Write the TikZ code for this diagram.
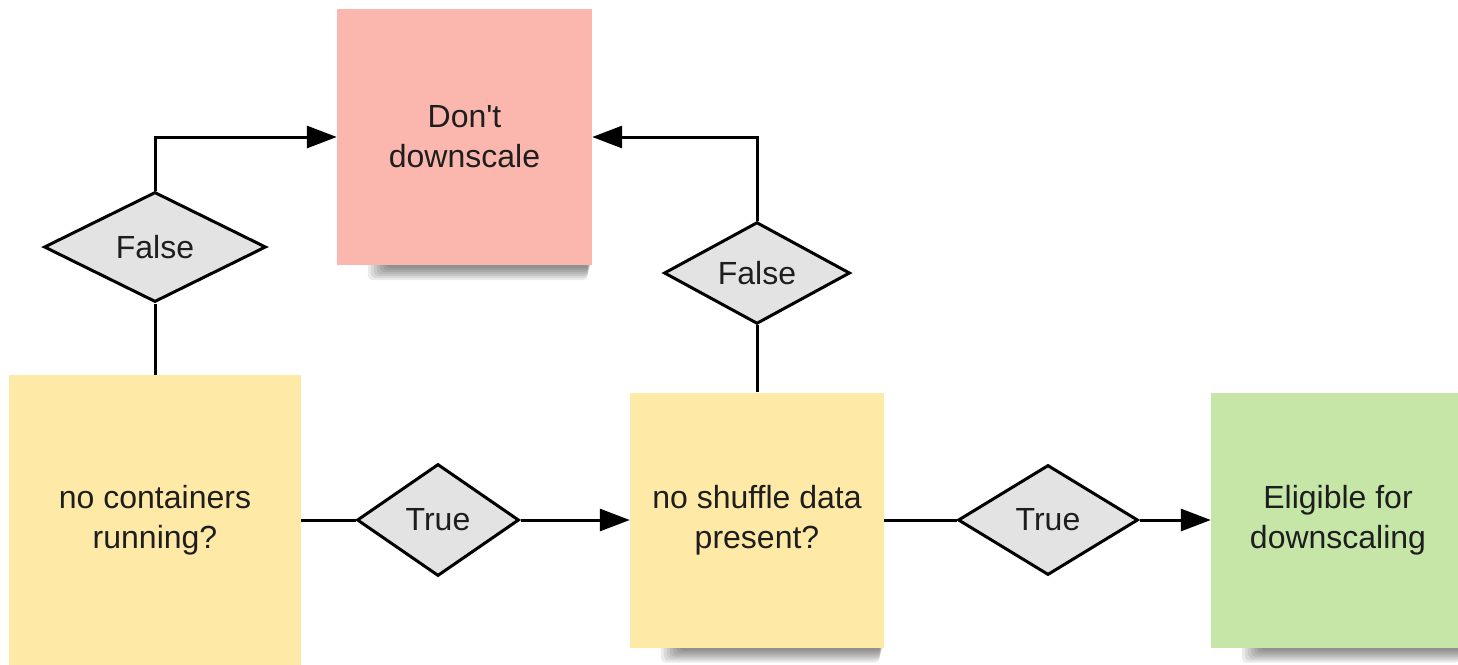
\documentclass[tikz,border=0pt]{standalone}
\usepackage{fontspec}
\setmainfont{Liberation Sans}[Ligatures=TeXOff]
\usetikzlibrary{shapes.geometric,arrows.meta}

\definecolor{stopred}{HTML}{FBB7AE}
\definecolor{checkyellow}{HTML}{FEE9A6}
\definecolor{gogreen}{HTML}{C5E6A7}
\definecolor{choicegray}{HTML}{E3E3E3}
\definecolor{inkdark}{HTML}{1E1E1E}

\tikzset{
  card/.style={rectangle, inner sep=0pt, align=center, text=inkdark,
    font=\fontsize{32}{40}\selectfont},
  choice/.style={diamond, draw=black, line width=3pt, fill=choicegray,
    inner sep=0pt, text=inkdark, font=\fontsize{32}{38}\selectfont},
  flow/.style={draw=black, line width=3pt},
  arr/.style={flow, -{Triangle[length=30pt,width=22pt]}},
  shadowlayer/.style={fill=black, fill opacity=0.08, rounded corners=5pt}
}

\begin{document}
\begin{tikzpicture}[x=1pt, y=-1pt]
  \useasboundingbox (0,0) rectangle (1458,664);

  % outcome and check cards
  \node[card, fill=stopred, minimum width=255pt, minimum height=256pt]
    (dont) at (464.5,137) {Don't\\downscale};
  \node[card, fill=checkyellow, minimum width=292pt, minimum height=290pt]
    (containers) at (155,520) {no containers\\running?};
  \node[card, fill=checkyellow, minimum width=254pt, minimum height=255pt]
    (shuffle) at (757,520) {no shuffle data\\present?};
  \node[card, fill=gogreen, minimum width=254pt, minimum height=255pt]
    (eligible) at (1338,520) {Eligible for\\downscaling};

  % soft shadows under the cards: stacked translucent strips,
  % darkest right below the edge, tapering off to the left
  \foreach \c in {dont,shuffle,eligible}{
    \foreach \i in {1,...,7}{
      \fill[shadowlayer]
        ([xshift={52pt-3pt*\i}, yshift=6pt]\c.south west)
        rectangle ([xshift={-1pt-0.5pt*\i}, yshift={-1pt-2pt*\i}]\c.south east);
    }
  }
  % card bottoms painted over the shadow tops
  \foreach \c/\col in {dont/stopred,shuffle/checkyellow,eligible/gogreen}{
    \fill[\col] ([yshift=7pt]\c.south west) rectangle (\c.south east);
  }

  % decision labels
  \node[choice, minimum width=222pt, minimum height=110pt] (f1) at (155,247) {False};
  \node[choice, minimum width=186pt, minimum height=90pt] (f2) at (757,273) {False};
  \node[choice, minimum width=162pt, minimum height=112pt] (t1) at (438,520) {True};
  \node[choice, minimum width=180pt, minimum height=110pt] (t2) at (1048,520) {True};

  % connectors
  \draw[flow] (containers.north) -- (f1.south);
  \draw[arr] (f1.north) |- (dont.west);
  \draw[flow] (shuffle.north) -- (f2.south);
  \draw[arr] (f2.north) |- (dont.east);
  \draw[flow] (containers.east) -- (t1.west);
  \draw[arr] (t1.east) -- (shuffle.west);
  \draw[flow] (shuffle.east) -- (t2.west);
  \draw[arr] (t2.east) -- (eligible.west);
\end{tikzpicture}
\end{document}
